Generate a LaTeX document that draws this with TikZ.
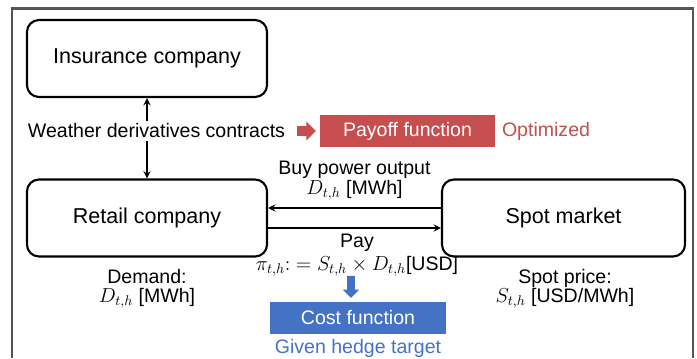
\documentclass[tikz,border=0pt]{standalone}
\usepackage{fontspec}
\setmainfont{Liberation Sans}
\usetikzlibrary{positioning, shapes.arrows}

\definecolor{mred}{RGB}{198,78,78}
\definecolor{mblue}{RGB}{68,114,196}
\definecolor{framegray}{RGB}{85,85,85}

\begin{document}
\begin{tikzpicture}[x=0.025cm, y=-0.025cm, >=stealth]
    % Define block styles
    \tikzstyle{block} = [rectangle, draw, line width=1.5pt, rounded corners=0.3cm, minimum width=6cm, minimum height=1.925cm, font=\fontsize{15.3}{18}\selectfont]
    \tikzstyle{fnblock} = [rectangle, text=white, minimum height=0.8cm, inner sep=0pt, font=\fontsize{13.9}{16}\selectfont]
    \tikzstyle{txt} = [font=\fontsize{13.9}{13.5}\selectfont, inner sep=2pt]
    \tikzstyle{bigarrow} = [single arrow, single arrow head extend=0.115cm, minimum height=0.47cm, inner xsep=0pt, inner ysep=0.115cm]
    \tikzstyle{link} = [->, line width=1.3pt]

    \useasboundingbox (0,0) rectangle (697,358);
    \draw[framegray, line width=1.5pt] (12,358) -- (12,8.5) -- (693,8.5) -- (693,358);

    % Place main nodes
    \node [block] (insurance) at (147,58.5) {Insurance company};
    \node [block] (retail) at (147,218) {Retail company};
    \node [block, minimum width=6.075cm] (spot) at (563.5,218) {Spot market};

    % Contracts and payoff
    \node [txt] (weather) at (156.5,131) {Weather derivatives contracts};
    \node [bigarrow, fill=mred] (redarrow) at (304,131) {};
    \node [fnblock, fill=mred, minimum width=4.375cm] (payoff) at (407.5,131) {Payoff function};
    \node [txt, text=mred] (optimized) at (546,131) {Optimized};

    % Labels on the market arrows
    \node [txt] (buy) at (354.5,170) {Buy power output};
    \node [txt] (buyamount) at (354.5,190) {$D_{t,h}$ [MWh]};
    \node [txt] (pay) at (357,243) {Pay};
    \node [txt] (payamount) at (357,266) {$\pi_{t,h}{:}= S_{t,h}\times D_{t,h}$[USD]};

    % Cost function
    \node [bigarrow, fill=mblue, rotate=-90, minimum height=0.55cm, inner ysep=0.09cm, single arrow head extend=0.11cm] (bluearrow) at (351,285) {};
    \node [fnblock, fill=mblue, minimum width=4.4cm] (cost) at (358,317.5) {Cost function};
    \node [txt, text=mblue] (hedge) at (358,348) {Given hedge target};

    % Quantities under the boxes
    \node [txt, align=center] (demand) at (147,288.5) {Demand:\\$D_{t,h}$ [MWh]};
    \node [txt, align=center] (price) at (565,288.5) {Spot price:\\$S_{t,h}$ [USD/MWh]};

    % Draw connections as arrows
    \draw [link] (weather.north -| insurance.south) -- (insurance.south);
    \draw [link] (weather.south -| retail.north) -- (retail.north);
    \draw [link] ([yshift=0.25cm]spot.west) -- ([yshift=0.25cm]retail.east);
    \draw [link] ([yshift=-0.25cm]retail.east) -- ([yshift=-0.25cm]spot.west);

\end{tikzpicture}
\end{document}
